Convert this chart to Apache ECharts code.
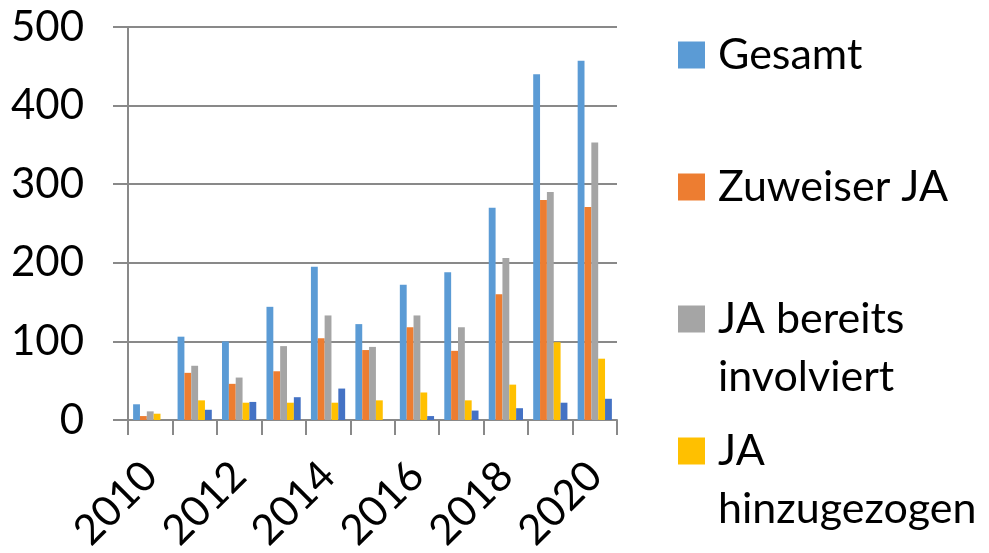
<!DOCTYPE html>
<html>
<head>
<meta charset="utf-8">
<script src="https://cdn.jsdelivr.net/npm/echarts@6/dist/echarts.min.js"></script>
<style>
  html, body { margin: 0; padding: 0; background: #fff; }
  #chart { width: 989px; height: 553px; }
</style>
</head>
<body>
<div id="chart"></div>
<script>
  // Jahre und Werte
  const years = ['2010', '2011', '2012', '2013', '2014', '2015', '2016', '2017', '2018', '2019', '2020'];
  const gesamt = [20, 106, 100, 144, 195, 122, 172, 188, 270, 440, 457];
  const zuweiserJA = [5, 60, 46, 62, 104, 89, 118, 88, 160, 280, 271];
  const jaBereitsInvolviert = [11, 69, 54, 94, 133, 93, 133, 118, 206, 290, 353];
  const jaHinzugezogen = [8, 25, 22, 22, 22, 25, 35, 25, 45, 99, 78];
  const weitere = [0, 13, 23, 29, 40, 0, 5, 12, 15, 22, 27];
  const yTicks = [0, 100, 200, 300, 400, 500];

  const font = 'Lato';
  const axisGray = '#898989';

  // eine Legende pro Eintrag, damit die Abstände wie im Original sitzen
  function legendItem(name, top, twoLines) {
    return {
      data: [name],
      left: 678,
      top: top,
      padding: 0,
      orient: 'vertical',
      icon: 'rect',
      itemWidth: 27,
      itemHeight: 27,
      selectedMode: false,
      // leere erste Zeile -> Symbol steht auf Höhe der ersten Textzeile
      formatter: twoLines ? function (n) { return '\n' + n; } : '{name}',
      textStyle: {
        fontFamily: font,
        fontSize: 43,
        color: '#000',
        lineHeight: 58,
        padding: [0, 0, 0, 8]
      }
    };
  }

  const chart = echarts.init(document.getElementById('chart'), null, { renderer: 'canvas' });

  const option = {
    animation: false,
    backgroundColor: '#fff',
    grid: {
      left: 128,
      right: 372,
      top: 27,
      bottom: 133,
      containLabel: false,
      outerBoundsMode: 'none'
    },
    legend: [
      legendItem('Gesamt', 26, false),
      legendItem('Zuweiser JA', 158, false),
      legendItem('JA bereits\ninvolviert', 232, true),
      legendItem('JA\nhinzugezogen', 364, true)
    ],
    xAxis: {
      type: 'category',
      data: years,
      axisLine: { show: true, lineStyle: { color: axisGray, width: 2 } },
      axisTick: {
        show: true,
        interval: 0,
        length: 15,
        lineStyle: { color: axisGray, width: 2 }
      },
      axisLabel: {
        interval: 1,
        rotate: 45,
        margin: 49,
        fontFamily: font,
        fontSize: 42,
        color: '#000'
      },
      splitLine: { show: false }
    },
    yAxis: {
      type: 'value',
      min: yTicks[0],
      max: yTicks[yTicks.length - 1],
      interval: 100,
      axisLine: { show: true, lineStyle: { color: axisGray, width: 2 } },
      axisTick: { show: true, length: 15, lineStyle: { color: axisGray, width: 2 } },
      axisLabel: {
        margin: 44,
        fontFamily: font,
        fontSize: 42,
        color: '#000'
      },
      splitLine: { show: true, lineStyle: { color: axisGray, width: 2 } }
    },
    series: [
      { name: 'Gesamt', type: 'bar', data: gesamt, itemStyle: { color: '#5B9BD5' }, barGap: '0%', barCategoryGap: '23%' },
      { name: 'Zuweiser JA', type: 'bar', data: zuweiserJA, itemStyle: { color: '#ED7D31' } },
      { name: 'JA bereits\ninvolviert', type: 'bar', data: jaBereitsInvolviert, itemStyle: { color: '#A5A5A5' } },
      { name: 'JA\nhinzugezogen', type: 'bar', data: jaHinzugezogen, itemStyle: { color: '#FFC000' } },
      { name: 'Weitere', type: 'bar', data: weitere, itemStyle: { color: '#4472C4' } }
    ]
  };

  chart.setOption(option);
</script>
</body>
</html>
